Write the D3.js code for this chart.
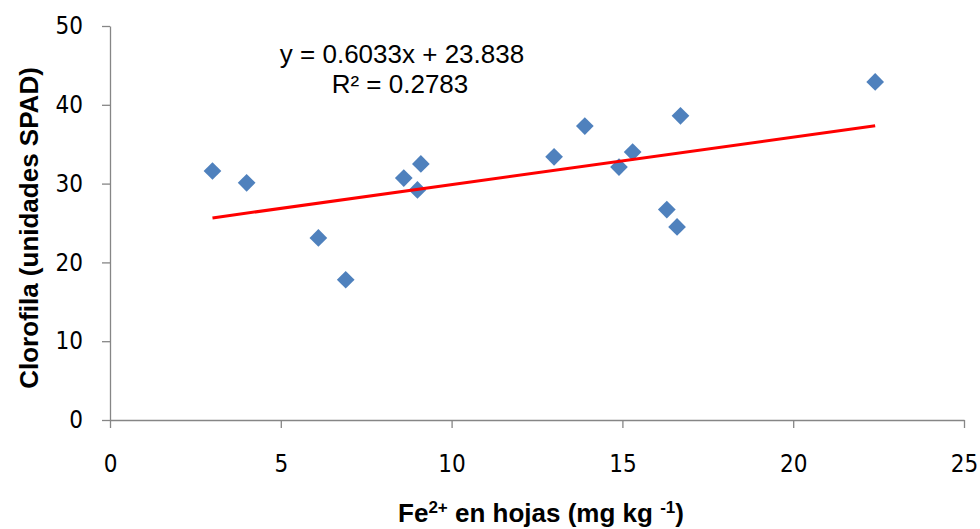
<!DOCTYPE html>
<meta charset="utf-8">
<style>
html, body { margin: 0; padding: 0; background: #fff; }
.tick text { font-family: "Liberation Sans Narrow", "DejaVu Sans Condensed", "Noto Sans", sans-serif; font-size: 24px; fill: #000; }
.axis path, .axis line { stroke: #868686; stroke-width: 1.3px; }
.title { font-family: "Liberation Sans", Arial, sans-serif; font-weight: bold; font-size: 26px; }
.eq { font-family: "Liberation Sans", Arial, sans-serif; font-size: 26px; }
</style>
<body>
<svg width="980" height="529"></svg>
</body>
<script src="https://d3js.org/d3.v7.min.js"></script>
<script>

// Fe2+ en hojas (mg kg-1)
var fe_vals = [3.0, 4.0, 6.1, 6.9, 8.6, 9.0, 9.1, 13.0, 13.9, 14.9, 15.3, 16.3, 16.6, 16.7, 22.4];
// Clorofila (SPAD)
var spad_vals = [31.6, 30.1, 23.1, 17.8, 30.7, 29.2, 32.5, 33.4, 37.3, 32.1, 34.0, 26.7, 24.5, 38.6, 42.9];

var x_ticks = [0, 5, 10, 15, 20, 25];
var y_ticks = [0, 10, 20, 30, 40, 50];

// trend line from the fit shown on the chart
var slope = 0.6033, intercept = 23.838;
var eq_text = "y = 0.6033x + 23.838";
var r2_text = "R² = 0.2783";

var svg = d3.select("svg");

var x = d3.scaleLinear().domain([0, 25]).range([110, 964]);
var y = d3.scaleLinear().domain([0, 50]).range([420, 26]);

var data = fe_vals.map(function(v, i){ return {x: v, y: spad_vals[i]}; });

// axes
svg.append("g")
    .attr("class", "axis")
    .attr("transform", "translate(0,420)")
    .call(d3.axisBottom(x).tickValues(x_ticks).tickSize(8).tickSizeOuter(0).tickPadding(27));

svg.append("g")
    .attr("class", "axis")
    .attr("transform", "translate(110,0)")
    .call(d3.axisLeft(y).tickValues(y_ticks).tickSize(8).tickSizeOuter(0).tickPadding(19));

// points
svg.append("g")
    .selectAll("path")
    .data(data)
    .enter().append("path")
    .attr("d", d3.symbol().type(d3.symbolDiamond2).size(200))
    .attr("transform", function(d){ return "translate(" + x(d.x) + "," + y(d.y) + ")"; })
    .attr("fill", "#4f81bd");

// trend line
var xmin = d3.min(fe_vals), xmax = d3.max(fe_vals);
svg.append("line")
    .attr("x1", x(xmin)).attr("y1", y(slope * xmin + intercept))
    .attr("x2", x(xmax)).attr("y2", y(slope * xmax + intercept))
    .attr("stroke", "#ff0000")
    .attr("stroke-width", 3);

// equation
svg.append("text").attr("class", "eq")
    .attr("x", 402).attr("y", 63)
    .attr("text-anchor", "middle")
    .text(eq_text);
svg.append("text").attr("class", "eq")
    .attr("x", 400).attr("y", 93)
    .attr("text-anchor", "middle")
    .text(r2_text);

// axis titles
svg.append("text").attr("class", "title")
    .attr("transform", "translate(38,228) rotate(-90)")
    .attr("text-anchor", "middle")
    .text("Clorofila (unidades SPAD)");

var xt = svg.append("text").attr("class", "title")
    .attr("x", 541).attr("y", 522)
    .attr("text-anchor", "middle");
xt.append("tspan").text("Fe");
xt.append("tspan").attr("font-size", "17px").attr("dy", -9).text("2+");
xt.append("tspan").attr("dy", 9).text(" en hojas (mg kg ");
xt.append("tspan").attr("font-size", "17px").attr("dy", -9).text("-1");
xt.append("tspan").attr("dy", 9).text(")");

</script>
